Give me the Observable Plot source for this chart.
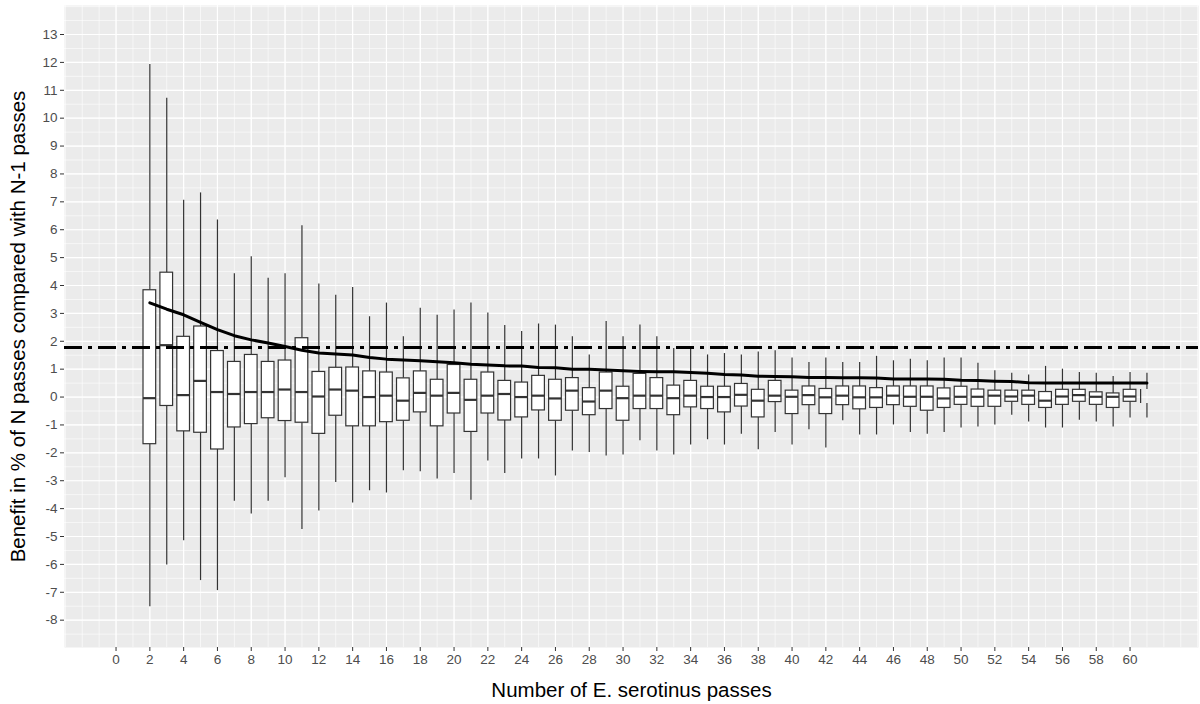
<!DOCTYPE html>
<html>
<head>
<meta charset="utf-8">
<script src="https://cdn.jsdelivr.net/npm/d3@7"></script>
<script src="https://cdn.jsdelivr.net/npm/@observablehq/plot@0.6"></script>
<style>
  html, body { margin: 0; padding: 0; background: #ffffff; }
  #chart svg { display: block; }
</style>
</head>
<body>
<div id="chart"></div>
<script>
// Number of E. serotinus passes (N)
const passes = [2,3,4,5,6,7,8,9,10,11,12,13,14,15,16,17,18,19,20,21,22,23,24,25,26,27,28,29,30,31,32,33,34,35,36,37,38,39,40,41,42,43,44,45,46,47,48,49,50,51,52,53,54,55,56,57,58,59,60,61];
// Boxplot statistics (benefit in %)
const whiskerLow = [-7.52,-6.02,-5.15,-6.58,-6.94,-3.74,-4.19,-3.74,-2.89,-4.75,-4.09,-3.06,-3.80,-3.36,-3.44,-2.64,-2.68,-2.94,-2.74,-3.70,-2.29,-2.74,-2.22,-2.22,-2.83,-1.93,-1.99,-2.11,-2.08,-1.57,-1.93,-2.08,-1.72,-1.53,-1.72,-1.33,-1.89,-1.27,-1.72,-1.17,-1.83,-0.85,-1.36,-1.36,-1.00,-1.27,-1.33,-1.27,-1.11,-1.07,-1.00,-0.65,-0.89,-1.11,-1.11,-0.83,-0.89,-1.07,-0.75,-0.75];
const quartile1 = [-1.69,-0.32,-1.23,-1.28,-1.88,-1.09,-0.97,-0.76,-0.86,-0.92,-1.32,-0.67,-1.05,-1.05,-0.90,-0.85,-0.55,-1.05,-0.59,-1.25,-0.59,-0.84,-0.73,-0.48,-0.85,-0.49,-0.65,-0.43,-0.85,-0.43,-0.43,-0.65,-0.37,-0.43,-0.55,-0.34,-0.73,-0.18,-0.61,-0.29,-0.61,-0.29,-0.44,-0.39,-0.29,-0.35,-0.49,-0.39,-0.28,-0.35,-0.35,-0.17,-0.28,-0.39,-0.28,-0.17,-0.28,-0.39,-0.17,-0.23];
const medians = [-0.04,1.86,0.07,0.58,0.18,0.11,0.18,0.18,0.27,0.18,0.02,0.27,0.23,0.00,0.05,-0.13,0.15,0.05,0.15,-0.10,0.05,0.11,0.00,0.05,-0.05,0.23,-0.16,0.23,-0.04,0.05,0.05,-0.04,0.05,0.00,0.00,0.08,-0.13,0.05,0.01,0.07,-0.01,0.05,-0.01,-0.01,0.05,0.01,0.01,-0.05,0.01,0.01,0.05,0.02,0.05,-0.13,0.02,0.07,0.01,0.01,0.02,null];
const quartile3 = [3.83,4.46,2.16,2.53,1.65,1.26,1.51,1.26,1.31,2.11,0.90,1.05,1.06,0.92,0.88,0.67,0.92,0.62,1.15,0.62,0.88,0.58,0.52,0.76,0.62,0.68,0.32,0.88,0.37,0.83,0.68,0.41,0.58,0.37,0.37,0.47,0.26,0.58,0.23,0.38,0.29,0.38,0.38,0.32,0.38,0.38,0.38,0.31,0.37,0.27,0.23,0.23,0.23,0.18,0.26,0.26,0.17,0.13,0.26,0.27];
const whiskerHigh = [11.92,10.71,7.06,7.32,6.35,4.42,5.03,4.26,4.42,6.14,4.05,3.65,3.93,2.88,3.37,2.16,3.18,2.93,3.12,3.37,3.01,2.57,2.35,2.62,2.58,2.16,1.51,2.71,2.16,2.58,2.16,1.74,1.78,1.51,1.56,1.51,1.62,1.66,1.40,1.24,1.40,1.24,1.24,1.46,1.30,1.36,1.30,1.40,1.40,1.21,0.94,0.85,0.79,1.10,1.00,0.88,0.85,0.74,0.88,0.85];
// Mean benefit line
const meanBenefit = [3.38,3.15,2.95,2.68,2.42,2.20,2.05,1.94,1.81,1.68,1.58,1.54,1.51,1.42,1.36,1.33,1.30,1.27,1.23,1.18,1.15,1.12,1.11,1.06,1.05,1.00,1.00,0.97,0.94,0.92,0.91,0.91,0.88,0.85,0.81,0.79,0.75,0.74,0.73,0.70,0.70,0.69,0.69,0.68,0.65,0.65,0.65,0.64,0.60,0.59,0.57,0.56,0.51,0.50,0.50,0.50,0.50,0.50,0.50,0.50];
// Horizontal reference (dot-dash) line
const referenceLevel = 1.78;
// Axis ticks
const xTicks = [0,2,4,6,8,10,12,14,16,18,20,22,24,26,28,30,32,34,36,38,40,42,44,46,48,50,52,54,56,58,60];
const yTicks = [-8,-7,-6,-5,-4,-3,-2,-1,0,1,2,3,4,5,6,7,8,9,10,11,12,13];
const xTitle = "Number of E. serotinus passes";
const yTitle = "Benefit in % of N passes compared with N-1 passes";

const rows = passes.map((n, i) => ({
  n,
  lo: whiskerLow[i],
  q1: quartile1[i],
  med: medians[i],
  q3: quartile3[i],
  hi: whiskerHigh[i],
  mean: meanBenefit[i]
}));
const fullBoxes = rows.filter(d => d.med != null);
const partialBoxes = rows.filter(d => d.med == null);

const xDomain = [-3.05, 64.05];
const yDomain = [-8.98, 14.04];
const half = 0.375;

const xMinor = d3.range(-3, 65, 1).filter(v => v >= xDomain[0] && v <= xDomain[1]);
const yMinor = d3.range(-9, 14.5, 0.5).filter(v => v >= yDomain[0] && v <= yDomain[1]);
const xMajor = xTicks;
const yMajor = yTicks;

const font = "'Liberation Sans', Arial, Helvetica, sans-serif";

const chart = Plot.plot({
  width: 1200,
  height: 704,
  marginLeft: 64,
  marginRight: 2,
  marginTop: 5,
  marginBottom: 57,
  style: { fontFamily: font, background: "#ffffff", overflow: "visible" },
  x: { domain: xDomain, axis: null },
  y: { domain: yDomain, axis: null },
  marks: [
    Plot.frame({ fill: "#EBEBEB", stroke: "none" }),
    Plot.ruleY(yMinor, { stroke: "#ffffff", strokeWidth: 0.6 }),
    Plot.ruleX(xMinor, { stroke: "#ffffff", strokeWidth: 0.6 }),
    Plot.ruleY(yMajor, { stroke: "#ffffff", strokeWidth: 1.2 }),
    Plot.ruleX(xMajor, { stroke: "#ffffff", strokeWidth: 1.2 }),
    // whiskers
    Plot.ruleX(rows, { x: "n", y1: "q3", y2: "hi", stroke: "#333333", strokeWidth: 1.2 }),
    Plot.ruleX(rows, { x: "n", y1: "lo", y2: "q1", stroke: "#333333", strokeWidth: 1.2 }),
    // boxes
    Plot.rect(fullBoxes, { x1: d => d.n - half, x2: d => d.n + half, y1: "q1", y2: "q3", fill: "#ffffff", stroke: "#333333", strokeWidth: 1.2 }),
    Plot.ruleY(fullBoxes, { x1: d => d.n - half, x2: d => d.n + half, y: "med", stroke: "#333333", strokeWidth: 2.2 }),
    Plot.ruleX(partialBoxes, { x: d => d.n - half, y1: "q1", y2: "q3", stroke: "#333333", strokeWidth: 1.2 }),
    // mean line
    Plot.line(rows, { x: "n", y: "mean", stroke: "#000000", strokeWidth: 3 }),
    // reference line
    Plot.ruleY([referenceLevel], { stroke: "#000000", strokeWidth: 3, strokeDasharray: "18,6,4,6" }),
    // axes
    Plot.axisX(xTicks, { tickSize: 4, tickPadding: 3, fontSize: 13.5, stroke: "#333333", fill: "#4D4D4D", label: null, tickFormat: d => String(d) }),
    Plot.axisY(yTicks, { tickSize: 4, tickPadding: 3, fontSize: 13.5, stroke: "#333333", fill: "#4D4D4D", label: null, tickFormat: d => String(d) }),
    // titles
    Plot.text([xTitle], { frameAnchor: "bottom", dy: 43, fontSize: 20.5, fill: "#000000", textAnchor: "middle", lineAnchor: "middle" }),
    Plot.text([yTitle], { frameAnchor: "left", dx: -46, rotate: -90, fontSize: 20.5, fill: "#000000", textAnchor: "middle", lineAnchor: "middle" })
  ]
});

document.getElementById("chart").appendChild(chart);
</script>
</body>
</html>
